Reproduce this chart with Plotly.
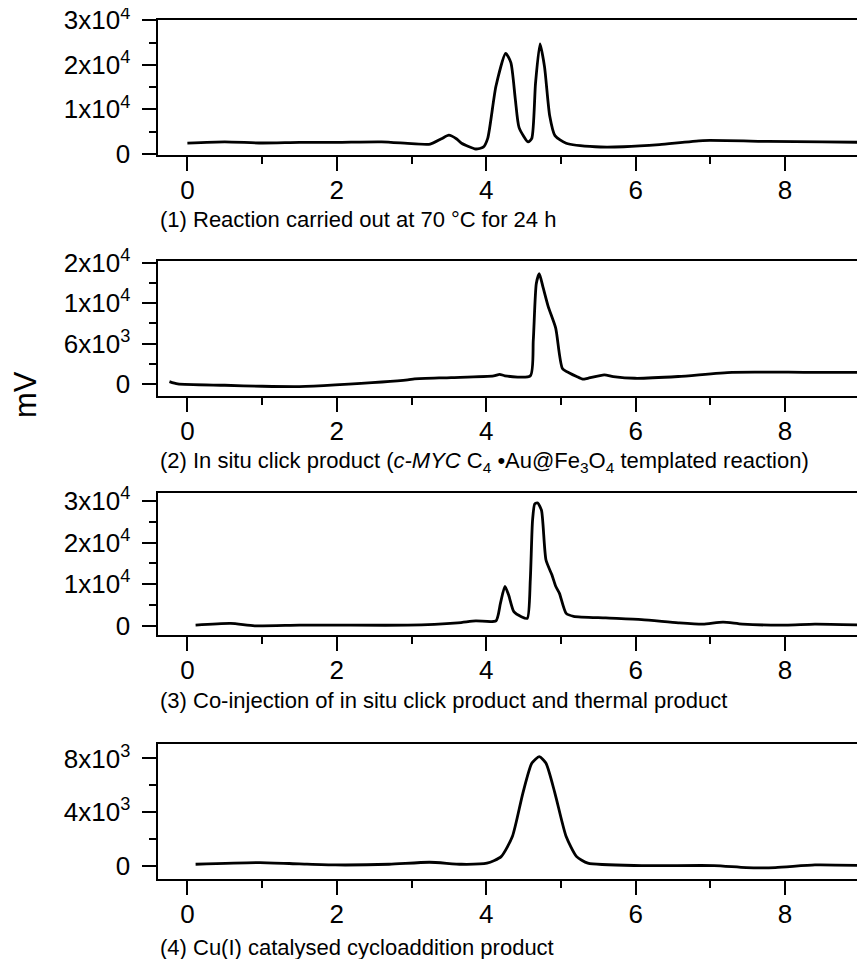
import plotly.graph_objects as go

# ---------------- data (retention time in min, signal in mV) ----------------
t1 = [0.0, 0.5, 1.0, 1.5, 2.0, 2.6, 3.0, 3.25, 3.4, 3.5, 3.6, 3.67, 3.86, 3.96, 4.02, 4.13, 4.26,
      4.33, 4.39, 4.44, 4.56, 4.61, 4.66, 4.72, 4.78, 4.85, 4.92, 5.07, 5.46, 5.84, 6.32, 6.9,
      7.77, 8.5, 9.07]
s1 = [2440, 2700, 2450, 2600, 2600, 2700, 2300, 2200, 3400, 4200, 3400, 2400, 1100, 1500, 3500,
      15200, 22600, 20500, 12200, 5900, 2700, 3500, 15900, 24700, 19600, 8500, 4100, 2400, 1600,
      1600, 2070, 3000, 2800, 2700, 2600]

t2 = [-0.24, -0.13, 0.5, 1.0, 1.5, 1.98, 2.95, 3.04, 3.53, 4.1, 4.18, 4.25, 4.59, 4.63, 4.67,
      4.71, 4.76, 4.83, 4.93, 5.02, 5.12, 5.21, 5.29, 5.36, 5.58, 5.7, 5.99, 6.57, 7.29, 8.25, 9.07]
s2 = [350, 0, -200, -350, -400, -150, 600, 750, 940, 1200, 1430, 1200, 1200, 6500, 14900,
      16400, 14400, 11500, 8300, 2300, 1600, 1100, 700, 840, 1340, 1100, 840, 1100, 1730, 1730, 1700]

t3 = [0.11, 0.58, 0.9, 1.5, 1.98, 2.95, 3.62, 3.86, 4.13, 4.19, 4.25, 4.3, 4.37, 4.47, 4.55,
      4.59, 4.62, 4.65, 4.69, 4.74, 4.8, 4.88, 4.93, 4.98, 5.07, 5.17, 5.6, 6.08, 6.57, 6.9,
      7.17, 7.43, 8.01, 8.4, 9.07]
s3 = [170, 570, 0, 170, 170, 170, 730, 1200, 1200, 5400, 9500, 7400, 3400, 2200, 1800,
      11000, 25300, 29300, 29500, 27700, 15800, 12200, 9500, 7800, 3000, 2300, 1900, 1500, 730,
      410, 890, 410, 170, 410, 170]

t4 = [0.11, 0.97, 1.5, 1.98, 2.7, 3.24, 3.67, 4.01, 4.2, 4.35, 4.49, 4.61, 4.71, 4.8, 4.92,
      5.07, 5.21, 5.36, 6.08, 7.05, 7.48, 7.87, 8.4, 9.07]
s4 = [100, 230, 130, 50, 100, 250, 100, 180, 670, 2170, 5400, 7640, 8130, 7640, 5400,
      2170, 670, 180, 0, 0, -150, -150, 50, 0]

captions = [
    "(1) Reaction carried out at 70 °C for 24 h",
    "(2) In situ click product (<i>c-MYC</i> C<sub>4</sub> •Au@Fe<sub>3</sub>O<sub>4</sub> templated reaction)",
    "(3) Co-injection of in situ click product and thermal product",
    "(4) Cu(I) catalysed cycloaddition product",
]

x_ticks = [0, 2, 4, 6, 8]
x_ticktext = ["0", "2", "4", "6", "8"]

y_ticks = [[0, 10000, 20000, 30000], [0, 6000, 12000, 18000],
           [0, 10000, 20000, 30000], [0, 4000, 8000]]
y_ticktext = [["0", "1x10<sup>4</sup>", "2x10<sup>4</sup>", "3x10<sup>4</sup>"],
              ["0", "6x10<sup>3</sup>", "1x10<sup>4</sup>", "2x10<sup>4</sup>"],
              ["0", "1x10<sup>4</sup>", "2x10<sup>4</sup>", "3x10<sup>4</sup>"],
              ["0", "4x10<sup>3</sup>", "8x10<sup>3</sup>"]]
y_minor = [[5000, 15000, 25000], [3000, 9000, 15000], [5000, 15000, 25000], [2000, 6000]]
y_ranges = [[-250, 30080], [-1800, 18300], [-2200, 31900], [-1000, 9080]]

# ---------------- layout geometry (page pixels; page body has an 8px margin) ----------------
OFF = 8
W, H = 865 - OFF, 959 - OFF
panel_px = [(20, 155), (261, 396), (493, 635), (744, 879)]
caption_y = [220, 462, 700, 947]
x_left_px = 157.5
x_range = [-0.40, 9.07]


def fx(p):
    return (p - OFF) / W


def fy(p):
    return 1 - (p - OFF) / H


FONT = "Arial, Liberation Sans, sans-serif"

fig = go.Figure()
series = [(t1, s1), (t2, s2), (t3, s3), (t4, s4)]
for i, (t, s) in enumerate(series):
    k = "" if i == 0 else str(i + 1)
    fig.add_trace(go.Scatter(x=t, y=s, mode="lines", xaxis="x" + k, yaxis="y" + k,
                             line=dict(color="black", width=2.8, shape="spline", smoothing=0.6),
                             showlegend=False, hoverinfo="skip"))

layout = dict(width=W, height=H, margin=dict(l=0, r=0, t=0, b=0, autoexpand=False),
              template="none",
              paper_bgcolor="white", plot_bgcolor="white", showlegend=False,
              font=dict(family=FONT, color="black"))

for i in range(4):
    k = "" if i == 0 else str(i + 1)
    top, bot = panel_px[i]
    ydom = [fy(bot), fy(top)]
    layout["xaxis" + k] = dict(
        domain=[fx(x_left_px), 1], range=x_range, anchor="y" + k, automargin=False,
        showline=True, linewidth=2, linecolor="black", mirror=True,
        showgrid=False, zeroline=False,
        tickmode="array", tickvals=x_ticks, ticktext=x_ticktext,
        ticks="outside", ticklen=14, tickwidth=2, tickcolor="black",
        tickfont=dict(size=26, family=FONT, color="black"),
        ticklabelstandoff=-3, ticklabeloverflow="allow",
        minor=dict(tickvals=[1, 3, 5, 7, 9], ticks="outside", ticklen=7,
                   tickwidth=2, tickcolor="black", showgrid=False),
        fixedrange=True,
    )
    layout["yaxis" + k] = dict(
        domain=ydom, range=y_ranges[i], anchor="x" + k, automargin=False,
        showline=True, linewidth=2, linecolor="black", mirror=False,
        showgrid=False, zeroline=False,
        tickmode="array", tickvals=y_ticks[i], ticktext=y_ticktext[i],
        ticks="outside", ticklen=14, tickwidth=2, tickcolor="black",
        tickfont=dict(size=26, family=FONT, color="black"),
        ticklabelstandoff=6, ticklabeloverflow="allow",
        minor=dict(tickvals=y_minor[i], ticks="outside", ticklen=7,
                   tickwidth=2, tickcolor="black", showgrid=False),
        fixedrange=True,
    )

annotations = []
for i in range(4):
    annotations.append(dict(text=captions[i], xref="paper", yref="paper",
                            x=fx(x_left_px), y=fy(caption_y[i]),
                            xanchor="left", yanchor="middle", showarrow=False,
                            font=dict(size=22, family=FONT, color="black")))
annotations.append(dict(text="mV", xref="paper", yref="paper", x=fx(25), y=fy(395),
                        xanchor="center", yanchor="middle", showarrow=False, textangle=-90,
                        font=dict(size=31, family=FONT, color="black")))
layout["annotations"] = annotations

fig.update_layout(**layout)
fig.write_html("out.html")
